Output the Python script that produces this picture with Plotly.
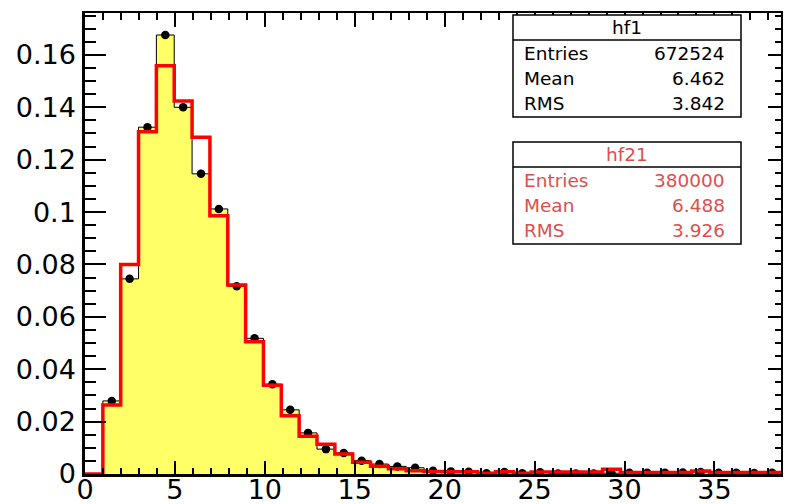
import numpy as np
import plotly.graph_objects as go

# Histogram binning
x_min, x_max, n_bins = 0.0, 38.7, 39

# Normalised bin contents (bins 0..38)
hf1_values = [
    0.0, 0.0279, 0.0745, 0.1324, 0.1676, 0.1400, 0.1146, 0.1012, 0.0717, 0.0518,
    0.0343, 0.0245, 0.0157, 0.0095, 0.0080, 0.0051, 0.0038, 0.0029, 0.0024, 0.0012,
    0.0010, 0.0009, 0.0003, 0.0008, 0.0003, 0.0007, 0.0002, 0.0002, 0.0002, 0.0003,
    0.0005, 0.0005, 0.0005, 0.0006, 0.0008, 0.0005, 0.0005, 0.0004, 0.0005,
]
hf21_values = [
    0.0, 0.0263, 0.0800, 0.1307, 0.1559, 0.1424, 0.1286, 0.0986, 0.0722, 0.0505,
    0.0339, 0.0222, 0.0144, 0.0114, 0.0076, 0.0045, 0.0030, 0.0020, 0.0012, 0.0010,
    0.0009, 0.0009, 0.0003, 0.0009, 0.0003, 0.0008, 0.0008, 0.0008, 0.0008, 0.0018,
    0.0006, 0.0006, 0.0006, 0.0006, 0.0011, 0.0006, 0.0006, 0.0006, 0.0006,
]

# Statistics boxes
stats_hf1 = {"name": "hf1", "Entries": "672524", "Mean": "6.462", "RMS": "3.842"}
stats_hf21 = {"name": "hf21", "Entries": "380000", "Mean": "6.488", "RMS": "3.926"}

x_ticks = [0, 5, 10, 15, 20, 25, 30, 35]
y_ticks = [0, 0.02, 0.04, 0.06, 0.08, 0.1, 0.12, 0.14, 0.16]
y_max = 0.176

edges = np.linspace(x_min, x_max, n_bins + 1)
centers = 0.5 * (edges[:-1] + edges[1:])


def step_xy(vals):
    return list(edges), list(vals) + [vals[-1]]


W, H = 786, 504
L, R, T, B = 85, 5, 13, 30
PW, PH = W - L - R, H - T - B

FONT = "DejaVu Sans"
YELLOW = "#ffff66"
RED = "#ff0000"
TXT_RED = "#dd4f4f"

fig = go.Figure()

# hf1: filled yellow histogram with thin black outline
sx, sy = step_xy(hf1_values)
fig.add_trace(go.Scatter(
    x=sx, y=sy, mode="lines", line=dict(shape="hv", color="black", width=1),
    fill="tozeroy", fillcolor=YELLOW, hoverinfo="skip",
))

# hf1: black markers at bin centres (non-empty bins)
mx = [c for c, v in zip(centers, hf1_values) if v > 0]
my = [v for v in hf1_values if v > 0]
fig.add_trace(go.Scatter(
    x=mx, y=my, mode="markers",
    marker=dict(symbol="circle", size=8.5, color="black"),
    hoverinfo="skip",
))

# hf21: red outline histogram
rx, ry = step_xy(hf21_values)
fig.add_trace(go.Scatter(
    x=rx, y=ry, mode="lines", line=dict(shape="hv", color=RED, width=3.5),
    hoverinfo="skip",
))

# carrier for the mirrored top/right axes
fig.add_trace(go.Scatter(x=[None], y=[None], xaxis="x2", yaxis="y2",
                         showlegend=False, hoverinfo="skip"))

tick_font = dict(family=FONT, size=27, color="black")
common = dict(showgrid=False, zeroline=False, showline=True, linecolor="black",
              ticks="inside", tickcolor="black", automargin=False)

fig.update_layout(
    width=W, height=H, margin=dict(l=L, r=R, t=T, b=B, autoexpand=False),
    plot_bgcolor="white", paper_bgcolor="white", showlegend=False,
    xaxis=dict(range=[x_min, x_max], tickvals=x_ticks, ticklen=13, tickwidth=2,
               linewidth=2.5, tickfont=tick_font, ticklabelstandoff=-10,
               minor=dict(dtick=1, tick0=0, ticklen=6, tickwidth=1.5,
                          ticks="inside", tickcolor="black"),
               **common),
    yaxis=dict(range=[0, y_max], tickvals=y_ticks, ticklen=21, tickwidth=2,
               linewidth=2.5, tickfont=tick_font, ticklabelstandoff=1,
               minor=dict(dtick=0.005, tick0=0, ticklen=11, tickwidth=1.5,
                          ticks="inside", tickcolor="black"),
               **common),
    xaxis2=dict(range=[x_min, x_max], overlaying="x", side="top", anchor="y",
                tickvals=x_ticks, ticklen=14, tickwidth=2, linewidth=2,
                showticklabels=False,
                minor=dict(dtick=1, tick0=0, ticklen=7, tickwidth=1.5,
                           ticks="inside", tickcolor="black"),
                **common),
    yaxis2=dict(range=[0, y_max], overlaying="y", side="right", anchor="x",
                tickvals=y_ticks, ticklen=13, tickwidth=2, linewidth=2,
                showticklabels=False,
                minor=dict(dtick=0.005, tick0=0, ticklen=6, tickwidth=1.5,
                           ticks="inside", tickcolor="black"),
                **common),
)


def px(x):
    return (x - L) / PW


def py(y):
    return (H - B - y) / PH


def stats_box(stats, top, color):
    x0, x1 = 513, 741
    head, bottom = top + 25, top + 102
    fig.add_shape(type="rect", xref="paper", yref="paper",
                  x0=px(x0), x1=px(x1), y0=py(bottom), y1=py(top),
                  line=dict(color="black", width=1.5), fillcolor="white",
                  layer="above")
    fig.add_shape(type="line", xref="paper", yref="paper",
                  x0=px(x0), x1=px(x1), y0=py(head), y1=py(head),
                  line=dict(color="black", width=1.5), layer="above")
    f = dict(family=FONT, size=18.5, color=color)
    fig.add_annotation(xref="paper", yref="paper", x=px((x0 + x1) / 2),
                       y=py(top + 13), text=stats["name"], showarrow=False,
                       xanchor="center", yanchor="middle", font=f)
    for i, key in enumerate(["Entries", "Mean", "RMS"]):
        yy = py(top + 38 + 25.3 * i)
        fig.add_annotation(xref="paper", yref="paper", x=px(x0 + 9), y=yy,
                           text=key, showarrow=False, xanchor="left",
                           yanchor="middle", font=f)
        fig.add_annotation(xref="paper", yref="paper", x=px(x1 - 14), y=yy,
                           text=stats[key], showarrow=False, xanchor="right",
                           yanchor="middle", font=f)


stats_box(stats_hf1, 15, "black")
stats_box(stats_hf21, 142, TXT_RED)

fig.write_html("out.html")
